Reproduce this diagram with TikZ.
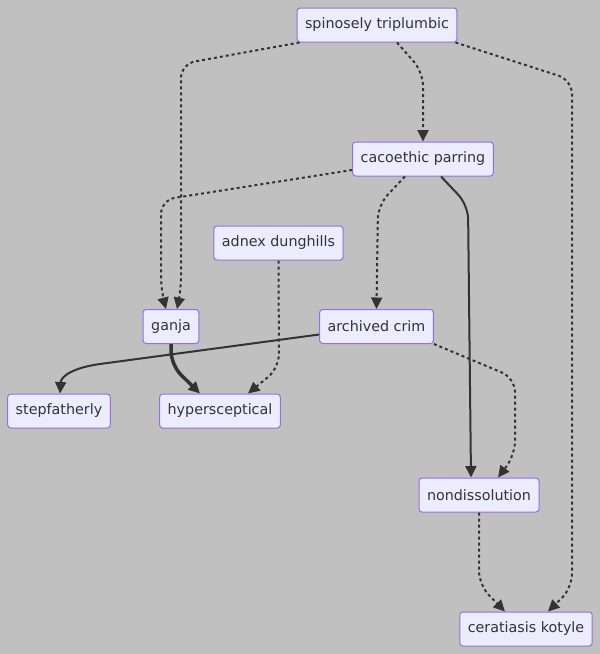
\documentclass[tikz,border=0pt]{standalone}
\usepackage{fontspec}
\setmainfont{DejaVu Sans}
\usepackage{tikz}
\usetikzlibrary{calc,arrows.meta}
\definecolor{canvasgray}{HTML}{C0C0C0}
\definecolor{boxfill}{HTML}{ECECFF}
\definecolor{boxline}{HTML}{9370DB}
\definecolor{linkgray}{HTML}{333333}

\begin{document}
\begin{tikzpicture}[x=1pt, y=-1pt,
    box/.style={draw=boxline, fill=boxfill, rounded corners=3pt, line width=1pt,
        minimum height=34pt, inner xsep=8pt, text=linkgray,
        font=\fontsize{14.3}{17}\selectfont},
    link/.style={draw=linkgray, line width=2pt, rounded corners=14pt,
        -{Triangle[length=11.5pt, width=11pt]}},
    dotlink/.style={link, dash pattern=on 3pt off 3pt}]
    % Canvas
    \fill[canvasgray] (0,0) rectangle (600,654);
    \useasboundingbox (0,0) rectangle (600,654);

    % Nodes
    \node[box] (spin)  at (377,25)    {spinosely triplumbic};
    \node[box] (cac)   at (423,159)   {cacoethic parring};
    \node[box] (adnex) at (278.5,243) {adnex dunghills};
    \node[box] (ganja) at (171,326.5) {ganja};
    \node[box] (arch)  at (376.5,326.5) {archived crim};
    \node[box] (step)  at (59,411)    {stepfatherly};
    \node[box] (hyper) at (220,411)   {hypersceptical};
    \node[box] (nond)  at (479,495)   {nondissolution};
    \node[box] (cer)   at (526,629)   {ceratiasis kotyle};

    % Links from spinosely triplumbic
    \draw[dotlink] ($(spin.south west)+(3,0)$) -- (181,64) -- (181,290) -- ($(ganja.north)+(6,0)$);
    \draw[dotlink] ($(spin.south)+(20,0)$) -- (423,72) -- (cac.north);
    \draw[dotlink] ($(spin.south east)+(-2,0)$) -- (572,80) -- (572,588) -- ($(cer.north)+(22,0)$);

    % Links from cacoethic parring
    \draw[dotlink] ($(cac.west)+(0,11)$) -- (161,200) -- (161,290) -- ($(ganja.north)+(-5,0)$);
    \draw[dotlink] ($(cac.south)+(-18,0)$) -- (378,205) -- (arch.north);
    \draw[link] ($(cac.south)+(18,0)$) -- (468,205) -- ($(nond.north)+(-8,0)$);

    % Links into hypersceptical
    \draw[dotlink] (adnex.south) -- (279,368) -- ($(hyper.north)+(28,0)$);
    \draw[link, line width=3.5pt] (ganja.south) -- (171,365) -- ($(hyper.north)+(-20,0)$);

    % Links from archived crim
    \draw[link, sharp corners] ($(arch.west)+(0,8)$) -- (100,364)
        .. controls (74,367.5) and (61,376) .. ($(step.north)+(1,0)$);
    \draw[dotlink] (arch.south east) -- (515,378) -- (515,455) -- ($(nond.north)+(19,0)$);

    % Last link
    \draw[dotlink] (nond.south) -- (479,585) -- ($(cer.north)+(-21,0)$);
\end{tikzpicture}
\end{document}
